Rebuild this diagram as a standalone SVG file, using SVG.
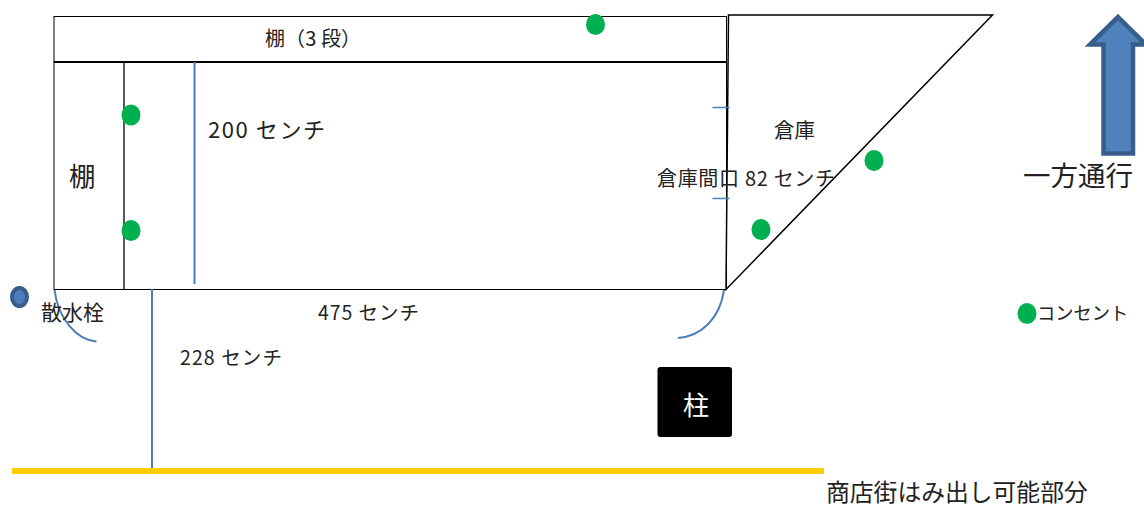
<svg xmlns="http://www.w3.org/2000/svg" width="1144" height="506" viewBox="0 0 1144 506">
<style>
text{font-family:"Noto Sans CJK JP","Noto Sans",sans-serif;fill:#222;font-weight:400}
.k{fill:none;stroke:#000}
.b{fill:none;stroke:#4a7ebb;stroke-width:2}
.g{fill:#00b050}
.s{font-size:20px}
.m{font-size:26.500px}
</style>
<rect width="1144" height="506" fill="#fff"/>
<g id="shelf-top">
<rect class="k" x="54" y="16.500" width="672.500" height="45.500"/>
<path d="M54 62H726.500" stroke="#000" stroke-width="2"/>
<text class="s" x="265" y="46" textLength="96">棚（3 段）</text>
</g>
<g id="room">
<rect class="k" x="54" y="62" width="672.500" height="227.500"/>
</g>
<g id="shelf-left">
<path d="M124 62V289.500" stroke="#222" stroke-width="1.500"/>
<text class="m" x="69" y="186">棚</text>
</g>
<g id="storage">
<path class="k" stroke-width="1.500" d="M728.500 15H992.500L726 289.500Z"/>
<text x="774" y="138" font-size="20.500">倉庫</text>
</g>
<g id="connectors">
<path class="b" d="M194.500 62V284"/>
<path class="b" d="M152 289V471"/>
<path d="M712.500 107.500H729.500M712.500 198.500H729.500" fill="none" stroke="#4a7ebb" stroke-width="1.500"/>
<path class="b" d="M54.500 290C58 318 76 340 96.500 341.500"/>
<path class="b" d="M724 290C720 318 702 336 678 338"/>
</g>
<g id="label-200"><text x="208" y="138" font-size="22" textLength="117">200 センチ</text></g>
<g id="label-475"><text x="318" y="320" font-size="19.500" textLength="101">475 センチ</text></g>
<g id="label-228"><text x="180" y="365" font-size="19.500" textLength="102">228 センチ</text></g>
<g id="label-door"><text x="657" y="186" font-size="20" textLength="178">倉庫間口 82 センチ</text></g>
<g id="outlets">
<ellipse class="g" cx="595.500" cy="24.500" rx="9.500" ry="10.500"/>
<ellipse class="g" cx="131" cy="115" rx="9.500" ry="10.500"/>
<ellipse class="g" cx="131" cy="230.500" rx="9.500" ry="10.500"/>
<ellipse class="g" cx="874" cy="160.500" rx="9.500" ry="10.500"/>
<ellipse class="g" cx="761" cy="229.500" rx="9.500" ry="10.500"/>
</g>
<g id="hydrant">
<ellipse cx="19.500" cy="297" rx="7.500" ry="9" fill="#4a7ebb" stroke="#385d8a" stroke-width="4"/>
<text x="41" y="320" font-size="21">散水栓</text>
</g>
<g id="arrow">
<path d="M1118 17L1146 44.500H1133V153.500H1103.500V44.500H1090Z" fill="#4f81bd" stroke="#385d8a" stroke-width="4.500"/>
<text x="1023" y="186" font-size="27.500">一方通行</text>
</g>
<g id="legend">
<ellipse class="g" cx="1027" cy="313.500" rx="9.500" ry="10.500"/>
<text x="1037" y="320" font-size="18.300">コンセント</text>
</g>
<g id="pillar">
<rect x="657.500" y="367" width="74.500" height="70" rx="3" fill="#000"/>
<text x="696" y="415" font-size="26" text-anchor="middle" style="fill:#fff">柱</text>
</g>
<g id="street">
<path d="M12 471H824" stroke="#ffcc00" stroke-width="6" fill="none"/>
<text x="826" y="501" font-size="23.800">商店街はみ出し可能部分</text>
</g>
</svg>
